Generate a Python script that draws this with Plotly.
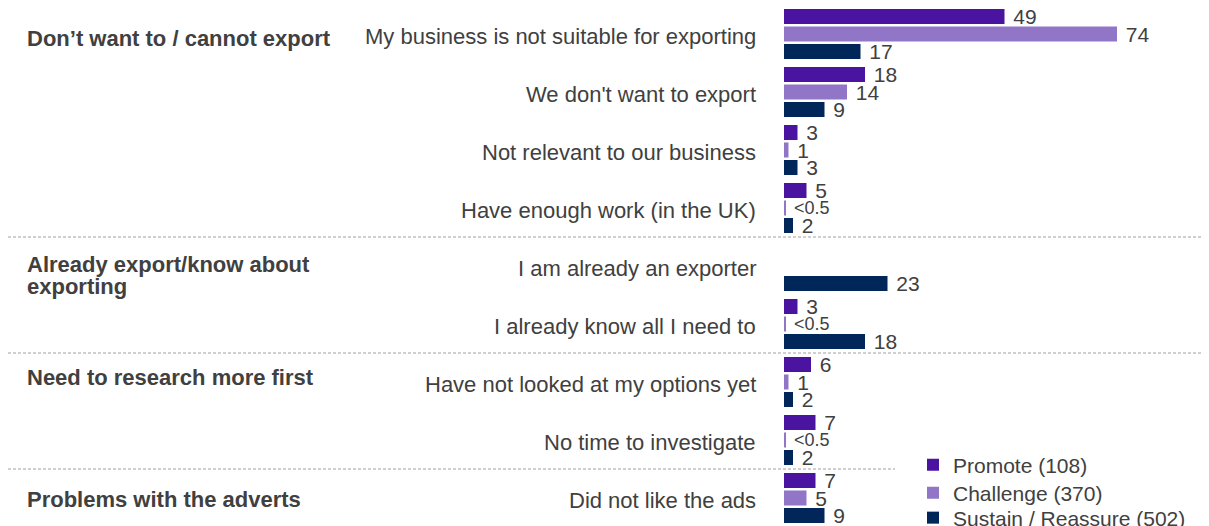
import plotly.graph_objects as go

categories = [
    "My business is not suitable for exporting",
    "We don't want to export",
    "Not relevant to our business",
    "Have enough work (in the UK)",
    "I am already an exporter",
    "I already know all I need to",
    "Have not looked at my options yet",
    "No time to investigate",
    "Did not like the ads",
]
promote = [49, 18, 3, 5, None, 3, 6, 7, 7]
challenge = [74, 14, 1, 0.4, None, 0.4, 1, 0.4, 5]
sustain = [17, 9, 3, 2, 23, 18, 2, 2, 9]
promote_labels = ["49", "18", "3", "5", "", "3", "6", "7", "7"]
challenge_labels = ["74", "14", "1", "<0.5", "", "<0.5", "1", "<0.5", "5"]
sustain_labels = ["17", "9", "3", "2", "23", "18", "2", "2", "9"]
series_names = ["Promote (108)", "Challenge (370)", "Sustain / Reassure (502)"]
colors = ["#4B14A0", "#9176C8", "#00265A"]

group_labels = [["Don’t want to / cannot export"],
                ["Already export/know about", "exporting"],
                ["Need to research more first"],
                ["Problems with the adverts"]]
group_first_cat = [0, 4, 6, 8]
separators_after = [3, 5, 7]

# layout-only settings (pixel tweaks)
group_yshift = [[-4], [2, -20], [5], [-1]]
legend_centers_px = [465, 493, 518]   # page pixel centres of legend items

FONT = "Liberation Sans, Arial, sans-serif"
TXT = "#404040"

OFF = 8                      # page body margin
FIG_W, PLOT_H = 1201, 518
FIG_H = 530
L = 776
W = FIG_W - L
PX_PER_UNIT = 4.5
CAT_PX = 58.0
FIRST_CENTER = 26.0

fig = go.Figure()
legend_ids = ["legend", "legend2", "legend3"]
for vals, labs, name, col, lid in zip([promote, challenge, sustain],
                                      [promote_labels, challenge_labels, sustain_labels],
                                      series_names, colors, legend_ids):
    sizes = [18 if l.startswith("<") else 21 for l in labs]
    fig.add_trace(go.Bar(
        y=categories, x=vals, name=name, orientation="h",
        marker=dict(color=col, line=dict(width=0)),
        text=[(" " + l) if l else "" for l in labs],
        textposition="outside", cliponaxis=False, constraintext="none",
        textfont=dict(family=FONT, size=sizes, color=TXT),
        hoverinfo="skip", legend=lid,
    ))

y_top = -FIRST_CENTER / CAT_PX
y_bot = y_top + PLOT_H / CAT_PX

legends = {}
for lid, cy in zip(legend_ids, legend_centers_px):
    legends[lid] = dict(x=(905 - L) / W, y=1 - (cy - OFF) / PLOT_H,
                        xanchor="left", yanchor="middle",
                        font=dict(family=FONT, size=21, color=TXT),
                        bgcolor="rgba(0,0,0,0)", itemwidth=30)

fig.update_layout(
    width=FIG_W, height=FIG_H,
    margin=dict(l=L, r=0, t=0, b=FIG_H - PLOT_H, autoexpand=False),
    paper_bgcolor="white", plot_bgcolor="white",
    barmode="group", bargap=0.095, bargroupgap=0.14,
    showlegend=True,
    xaxis=dict(range=[0, W / PX_PER_UNIT], visible=False, fixedrange=True),
    yaxis=dict(range=[y_bot, y_top], showgrid=False, zeroline=False, showline=False,
               showticklabels=False, ticks=""),
    font=dict(family=FONT, color=TXT),
    **legends,
)

for idx in separators_after:
    x1 = 1.0 if idx < 7 else (887 - L) / W
    fig.add_shape(type="line", xref="paper", yref="y", x0=-L / W, x1=x1,
                  y0=idx + 0.5, y1=idx + 0.5,
                  line=dict(color="#A0A0A0", width=1, dash="3px,2px"))

# category labels
for cat in categories:
    fig.add_annotation(xref="paper", yref="y", x=0, y=cat, xshift=-26,
                       text=cat, showarrow=False, xanchor="right", yanchor="middle",
                       yshift=-2, font=dict(family=FONT, size=22, color=TXT))

# group labels
for lines, ci, shifts in zip(group_labels, group_first_cat, group_yshift):
    for line, ys in zip(lines, shifts):
        fig.add_annotation(xref="paper", yref="y", x=(17 - L) / W, y=categories[ci],
                           text="<b>" + line + "</b>", showarrow=False, xanchor="left",
                           yanchor="middle", align="left", yshift=ys,
                           font=dict(family=FONT, size=22, color=TXT))

fig.write_html("out.html")
